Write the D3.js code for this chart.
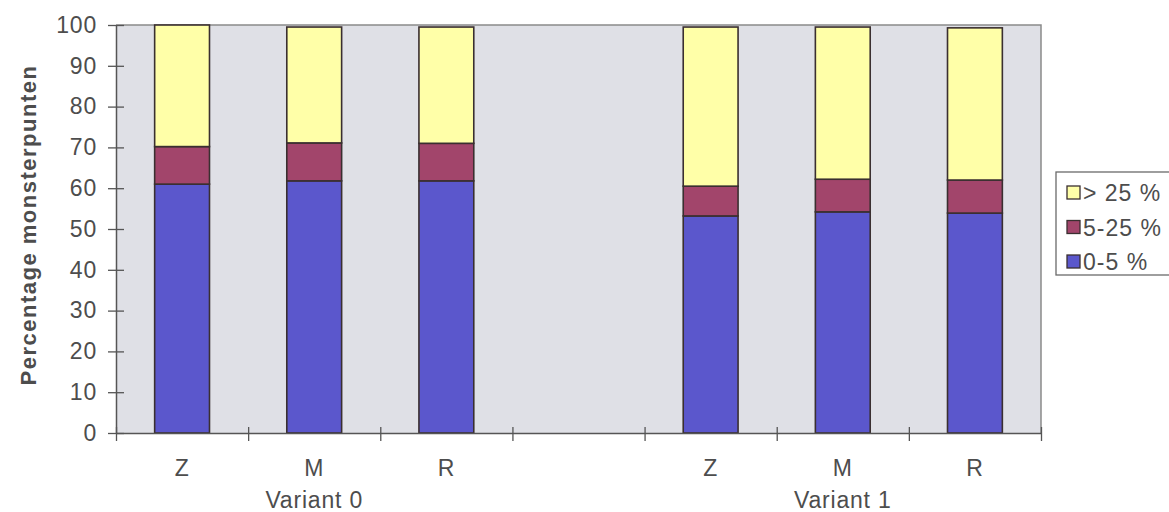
<!DOCTYPE html>
<html>
<head>
<meta charset="utf-8">
<script src="https://cdn.jsdelivr.net/npm/d3@7/dist/d3.min.js"></script>
<style>
  html, body { margin: 0; padding: 0; background: #fff; }
  svg { display: block; }
  text { font-family: "Liberation Sans", Arial, Helvetica, sans-serif; fill: #4d4d4d; }
</style>
</head>
<body>
<svg id="chart" width="1169" height="512"></svg>
<script>
// Slots along the x axis (an empty slot separates the two variants)
const slots = ["v0-Z", "v0-M", "v0-R", "gap", "v1-Z", "v1-M", "v1-R"];
const slotLabels = ["Z", "M", "R", "", "Z", "M", "R"];
const groups = ["Variant 0", "Variant 1"];
const groupCenterSlot = ["v0-M", "v1-M"];

// Share of sample points per class (percent)
const cls0to5   = [61.0, 61.8, 61.8, null, 53.2, 54.2, 53.9];
const cls5to25  = [ 9.2,  9.3,  9.2, null,  7.3,  8.0,  8.1];
const clsOver25 = [29.8, 28.4, 28.5, null, 39.0, 37.3, 37.3];

const seriesNames = ["0-5 %", "5-25 %", "> 25 %"];
const seriesColors = ["#5b57cc", "#a2456b", "#ffffa8"];
const legendOrder = ["> 25 %", "5-25 %", "0-5 %"];
const yTicks = [0, 10, 20, 30, 40, 50, 60, 70, 80, 90, 100];

const svg = d3.select("#chart");
const plot = { left: 116, right: 1041, top: 25, bottom: 433 };
const fontSize = "23px";
const spacing = "0.8px";

const x = d3.scaleBand()
  .domain(slots)
  .range([plot.left, plot.right])
  .paddingInner(0.585)
  .paddingOuter(0.2925);

const xEdge = d3.scaleLinear().domain([0, slots.length]).range([plot.left, plot.right]);

const y = d3.scaleLinear().domain([0, 100]).range([plot.bottom, plot.top]);

// plot background
svg.append("rect")
  .attr("x", plot.left).attr("y", plot.top)
  .attr("width", plot.right - plot.left).attr("height", plot.bottom - plot.top)
  .attr("fill", "#dfe0e6");

// frame on top and right
svg.append("path")
  .attr("d", `M${plot.left},${plot.top}H${plot.right}V${plot.bottom}`)
  .attr("fill", "none").attr("stroke", "#8a8a8a").attr("stroke-width", 1.5);

// stacked data
const rows = slots.map((s, i) => ({
  slot: s,
  "0-5 %": cls0to5[i],
  "5-25 %": cls5to25[i],
  "> 25 %": clsOver25[i]
})).filter(d => d["0-5 %"] !== null);

const stack = d3.stack().keys(seriesNames);
const layers = stack(rows);

svg.append("g").selectAll("g")
  .data(layers)
  .join("g")
  .attr("fill", (d, i) => seriesColors[i])
  .selectAll("rect")
  .data(d => d)
  .join("rect")
  .attr("x", d => x(d.data.slot))
  .attr("width", x.bandwidth())
  .attr("y", d => y(d[1]))
  .attr("height", d => y(d[0]) - y(d[1]))
  .attr("stroke", "#3a2f30")
  .attr("stroke-width", 1.6);

// y axis
const yAxis = svg.append("g")
  .attr("transform", `translate(${plot.left},0)`)
  .call(d3.axisLeft(y).tickValues(yTicks).tickSize(8).tickPadding(0).tickSizeOuter(0));
yAxis.select(".domain").attr("stroke", "#555").attr("stroke-width", 1.5);
yAxis.selectAll(".tick line").attr("x1", 8).attr("stroke", "#555").attr("stroke-width", 1.3);
yAxis.selectAll(".tick text")
  .attr("x", -19)
  .style("font-size", fontSize)
  .style("letter-spacing", spacing)
  .attr("fill", "#4d4d4d");

// x axis: tick marks on slot boundaries
const xAxis = svg.append("g")
  .attr("transform", `translate(0,${plot.bottom})`)
  .call(d3.axisBottom(xEdge).tickValues(d3.range(slots.length + 1)).tickSize(8).tickFormat("").tickSizeOuter(0));
xAxis.select(".domain").attr("stroke", "#555").attr("stroke-width", 1.5);
xAxis.selectAll(".tick line").attr("y1", -6).attr("stroke", "#555").attr("stroke-width", 1.3);

// category labels
const catAxis = svg.append("g")
  .attr("transform", `translate(0,${plot.bottom})`)
  .call(d3.axisBottom(x).tickSize(0).tickPadding(0).tickFormat((d, i) => slotLabels[i]));
catAxis.select(".domain").remove();
catAxis.selectAll(".tick text")
  .attr("y", 0).attr("dy", "43px")
  .style("font-size", fontSize)
  .style("letter-spacing", spacing)
  .attr("fill", "#4d4d4d");

// group labels
svg.append("g").selectAll("text")
  .data(groups)
  .join("text")
  .attr("x", (d, i) => x(groupCenterSlot[i]) + x.bandwidth() / 2)
  .attr("y", 508)
  .attr("text-anchor", "middle")
  .style("font-size", fontSize)
  .style("letter-spacing", spacing)
  .text(d => d);

// y axis title
svg.append("text")
  .attr("transform", `translate(36,${(62 + 388) / 2}) rotate(-90)`)
  .attr("text-anchor", "middle")
  .style("font-size", "22px")
  .style("font-weight", "bold")
  .style("letter-spacing", "1.5px")
  .text("Percentage monsterpunten");

// legend
const legend = svg.append("g");
legend.append("rect")
  .attr("x", 1056).attr("y", 172).attr("width", 120).attr("height", 103)
  .attr("fill", "#fff").attr("stroke", "#6a6a6a").attr("stroke-width", 1.3);
const legendY = d3.scalePoint().domain(legendOrder).range([193, 262]);
const item = legend.selectAll("g.item")
  .data(legendOrder)
  .join("g")
  .attr("class", "item")
  .attr("transform", d => `translate(1067,${legendY(d)})`);
item.append("rect")
  .attr("x", 0).attr("y", -7).attr("width", 13).attr("height", 13)
  .attr("fill", d => seriesColors[seriesNames.indexOf(d)])
  .attr("stroke", "#3a2f30").attr("stroke-width", 1.3);
item.append("text")
  .attr("x", 16).attr("y", 0).attr("dy", "0.36em")
  .style("font-size", fontSize)
  .style("letter-spacing", "1px")
  .text(d => d);
</script>
</body>
</html>
